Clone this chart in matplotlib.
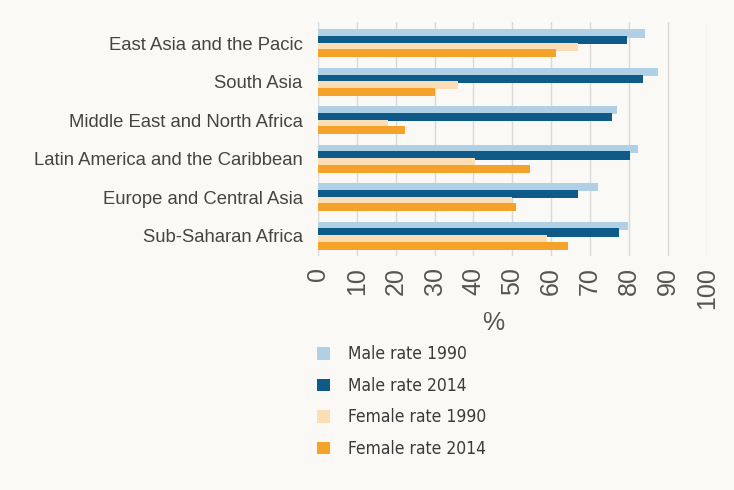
import numpy as np
import matplotlib
matplotlib.use("Agg")
import matplotlib.pyplot as plt
from matplotlib.patches import Patch

regions = ["East Asia and the Pacic", "South Asia", "Middle East and North Africa",
           "Latin America and the Caribbean", "Europe and Central Asia", "Sub-Saharan Africa"]
male_1990 = [84, 87.5, 77, 82.3, 72, 79.8]
male_2014 = [79.6, 83.6, 75.5, 80.2, 67, 77.4]
female_1990 = [67, 36, 18, 40.4, 50, 59]
female_2014 = [61.3, 30.2, 22.4, 54.5, 51, 64.3]
series_names = ["Male rate 1990", "Male rate 2014", "Female rate 1990", "Female rate 2014"]
colors = ["#B0D0E6", "#0E5A89", "#FBDDB6", "#F4A22A"]

bg = "#FBF9F5"
fig = plt.figure(figsize=(7.34, 4.9), dpi=100, facecolor=bg)
ax = fig.add_axes([0.433, 0.478, 0.53, 0.477], facecolor=bg)

# four bars per region, 1990 bars drawn first so the 2014 ones overlap them a bit
y = np.arange(len(regions))
step = 0.172
offsets = [-1.5 * step, -0.5 * step, 0.5 * step, 1.5 * step]
for vals, off, c in zip([male_1990, male_2014, female_1990, female_2014], offsets, colors):
    ax.barh(y + off, vals, height=0.21, color=c, zorder=3)

ax.set_xlim(0, 100)
ax.set_ylim(5.52, -0.556)
ax.set_xticks(range(0, 101, 10))
ax.set_xticklabels([str(v) for v in range(0, 101, 10)], rotation=90,
                   fontsize=18, color="#555555", family=["Liberation Sans", "DejaVu Sans"])
ax.set_yticks(y)
ax.set_yticklabels(regions, fontsize=13.3, color="#444444", family=["Liberation Sans", "DejaVu Sans"])
ax.tick_params(axis="x", length=0, pad=8)
ax.tick_params(axis="y", length=0, pad=11)
ax.grid(axis="x", color="#D9D9D9", linewidth=1, zorder=0)
for s in ax.spines.values():
    s.set_visible(False)

fig.text(0.672, 0.34, "%", fontsize=18, color="#555555", ha="center", va="center",
         family=["Liberation Sans", "DejaVu Sans"])

handles = [Patch(facecolor=c, edgecolor="none") for c in colors]
leg = fig.legend(handles, series_names, loc="upper left", bbox_to_anchor=(0.411, 0.327),
                 frameon=False, handlelength=0.75, handleheight=0.75,
                 handletextpad=1.0, labelspacing=0.78,
                 prop={"family": "DejaVu Sans", "stretch": "condensed", "size": 12.5})
for t in leg.get_texts():
    t.set_color("#3A3A3A")

plt.savefig("out.png", dpi=100, facecolor=bg)
